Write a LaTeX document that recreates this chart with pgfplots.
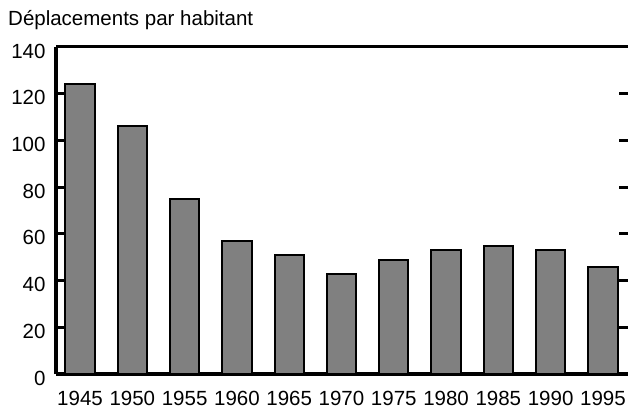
\documentclass[border=0pt]{standalone}
\usepackage{pgfplots}
\pgfplotsset{compat=1.18}
\usepackage{fontspec}
\setmainfont{Liberation Sans}
\definecolor{bargray}{RGB}{128,128,128}
\begin{document}
\begin{tikzpicture}
\useasboundingbox (0,0) rectangle (628bp,409bp);
\node[anchor=base west, inner sep=0pt, font=\fontsize{20.5bp}{23bp}\selectfont] at (8bp,383bp) {Déplacements par habitant};
\begin{axis}[
  at={(56bp,35bp)}, anchor=south west,
  scale only axis, width=572bp, height=327bp,
  xmin=-0.46, xmax=10.48, ymin=0, ymax=140,
  axis x line*=bottom, axis y line*=left,
  axis line style={line width=3bp, -},
  xtick=data,
  xticklabels={1945,1950,1955,1960,1965,1970,1975,1980,1985,1990,1995},
  xtick style={draw=none},
  ytick={0,20,...,140},
  tick align=inside,
  major tick length=9bp,
  ytick style={line width=3bp, black},
  tick label style={font=\fontsize{20.5bp}{23bp}\selectfont},
  /pgf/number format/assume math mode=true,
  xticklabel style={yshift=-14bp},
  yticklabel style={xshift=-7bp, yshift=-4bp},
  clip=false,
]
\addplot[ybar, bar width=0.56, fill=bargray, draw=black, line width=2bp]
  coordinates {(0,124) (1,106) (2,75) (3,57) (4,51) (5,43) (6,49) (7,53) (8,55) (9,53) (10,46)};
\draw[line width=3bp] (rel axis cs:0,1) -- (rel axis cs:1,1);
\end{axis}
\begin{axis}[
  at={(56bp,35bp)}, anchor=south west,
  scale only axis, width=572bp, height=327bp,
  xmin=-0.46, xmax=10.48, ymin=0, ymax=140,
  hide x axis,
  axis y line*=right,
  y axis line style={draw=none},
  ytick={20,40,...,120},
  yticklabels={},
  tick align=inside,
  major tick length=9bp,
  ytick style={line width=3bp, black},
]
\end{axis}
\end{tikzpicture}
\end{document}
